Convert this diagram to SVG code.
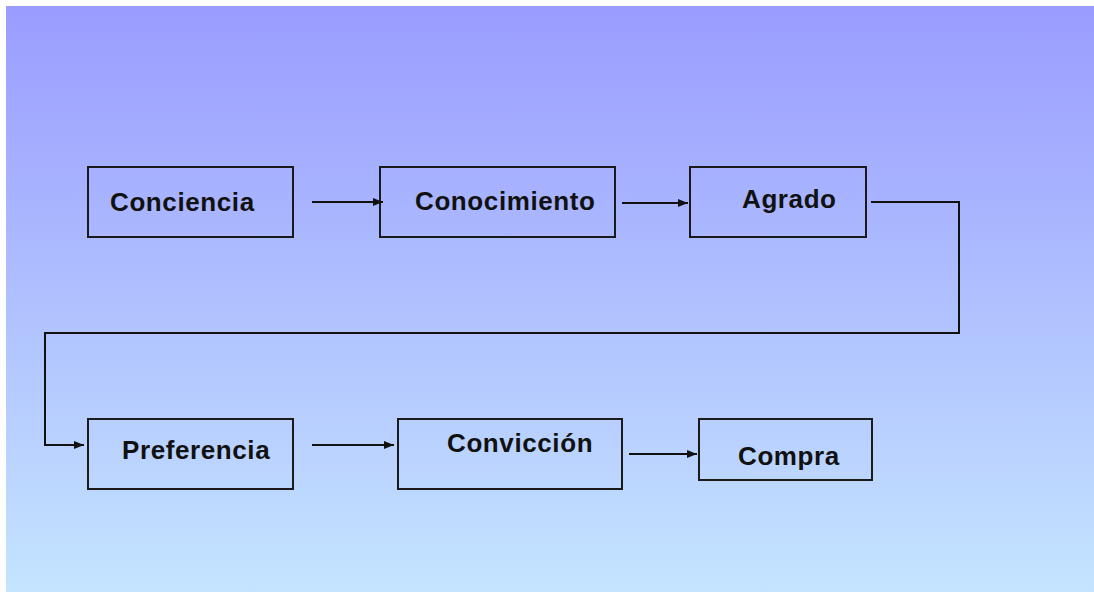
<svg xmlns="http://www.w3.org/2000/svg" width="1094" height="592" viewBox="0 0 1094 592">
  <defs>
    <linearGradient id="bg" x1="0" y1="0" x2="0" y2="1">
      <stop offset="0" stop-color="#9A9CFF"/>
      <stop offset="1" stop-color="#C4E4FF"/>
    </linearGradient>
    <marker id="ah" viewBox="0 0 10 10" refX="10" refY="5" markerWidth="11" markerHeight="10" markerUnits="userSpaceOnUse" orient="auto">
      <path d="M0,1 L10,5 L0,9 z" fill="#111"/>
    </marker>
  </defs>
  <style>
    .box { fill: none; stroke: #1a1a1a; stroke-width: 2; }
    .lbl { font-family: "Liberation Sans", Arial, sans-serif; font-weight: bold; font-size: 26px; letter-spacing: 0.6px; fill: #111; }
    .conn { fill: none; stroke: #111; stroke-width: 2; }
  </style>
  <rect x="0" y="0" width="1094" height="592" fill="#ffffff"/>
  <rect x="6" y="6" width="1088" height="586" fill="url(#bg)"/>

  <g id="conciencia">
    <rect class="box" x="88" y="167" width="205" height="70"/>
    <text class="lbl" x="110" y="211">Conciencia</text>
  </g>
  <g id="conocimiento">
    <rect class="box" x="380" y="167" width="235" height="70"/>
    <text class="lbl" x="415" y="210">Conocimiento</text>
  </g>
  <g id="agrado">
    <rect class="box" x="690" y="167" width="176" height="70"/>
    <text class="lbl" x="742" y="208">Agrado</text>
  </g>
  <g id="preferencia">
    <rect class="box" x="88" y="419" width="205" height="70"/>
    <text class="lbl" x="122" y="459">Preferencia</text>
  </g>
  <g id="conviccion">
    <rect class="box" x="398" y="419" width="224" height="70"/>
    <text class="lbl" x="447" y="452">Convicción</text>
  </g>
  <g id="compra">
    <rect class="box" x="699" y="419" width="173" height="61"/>
    <text class="lbl" x="738" y="465">Compra</text>
  </g>

  <g id="connectors">
    <line class="conn" x1="312" y1="202" x2="383" y2="202" marker-end="url(#ah)"/>
    <line class="conn" x1="622" y1="203" x2="688" y2="203" marker-end="url(#ah)"/>
    <polyline class="conn" points="871,202 959,202 959,333 45,333 45,445 84,445" marker-end="url(#ah)"/>
    <line class="conn" x1="312" y1="445" x2="394" y2="445" marker-end="url(#ah)"/>
    <line class="conn" x1="629" y1="454" x2="697" y2="454" stroke-width="2.6" marker-end="url(#ah)"/>
  </g>
</svg>
